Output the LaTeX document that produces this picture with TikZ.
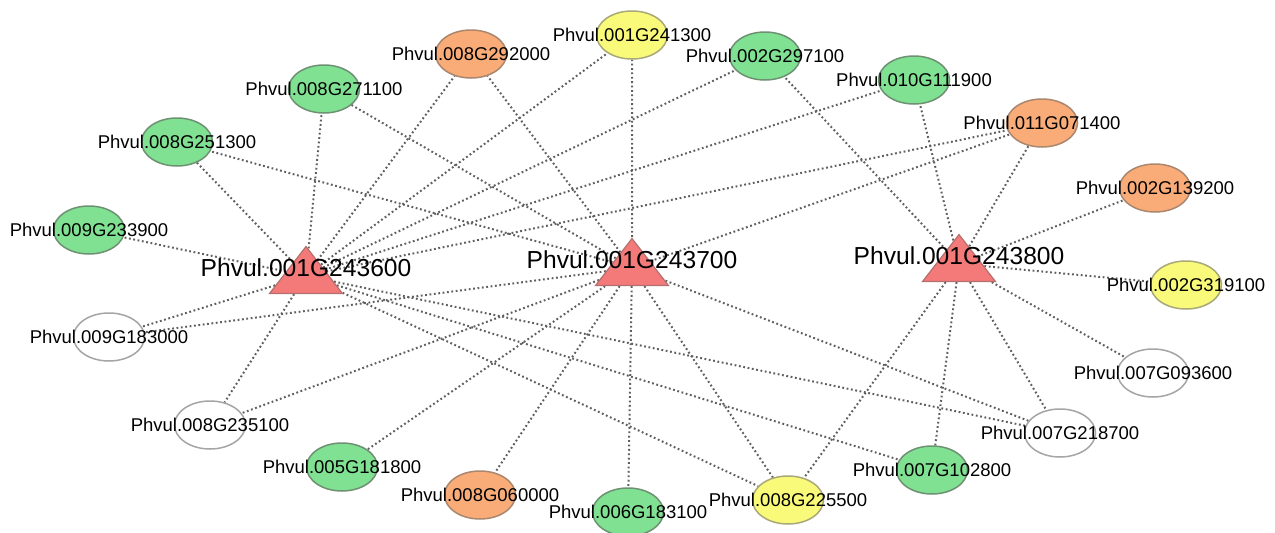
\documentclass[tikz,border=0pt]{standalone}
\usepackage{fontspec}
\setmainfont{Liberation Sans}
\usetikzlibrary{shapes.geometric,backgrounds}

\definecolor{grnfill}{RGB}{128,225,146}
\definecolor{grnline}{RGB}{110,145,115}
\definecolor{orgfill}{RGB}{250,172,120}
\definecolor{orgline}{RGB}{170,135,110}
\definecolor{ylwfill}{RGB}{250,250,122}
\definecolor{ylwline}{RGB}{168,168,120}
\definecolor{whtline}{RGB}{165,165,165}
\definecolor{hubfill}{RGB}{244,122,122}
\definecolor{hubline}{RGB}{180,110,110}
\definecolor{linkgray}{RGB}{95,95,95}

\newcommand{\genefont}{\fontsize{18.5}{20}\selectfont}
\newcommand{\hubfont}{\fontsize{24.6}{27}\selectfont}

\begin{document}
\begin{tikzpicture}[x=1pt,y=-1pt,
    gene/.style={ellipse,minimum width=71pt,minimum height=48pt,inner sep=0pt,
        line width=1.5pt,label={[font=\genefont,inner sep=0pt]center:#1}},
    grn/.style={fill=grnfill,draw=grnline},
    org/.style={fill=orgfill,draw=orgline},
    ylw/.style={fill=ylwfill,draw=ylwline},
    wht/.style={fill=white,draw=whtline},
    hub/.style={isosceles triangle,shape border rotate=90,isosceles triangle stretches,
        minimum width=73pt,minimum height=47pt,inner sep=0pt,anchor=apex,
        fill=hubfill,draw=hubline,line width=1.2pt},
    hubtext/.style={font=\hubfont,inner sep=0pt},
    link/.style={draw=linkgray,line width=2pt,dash pattern=on 1.8pt off 2.6pt}]

    \useasboundingbox (0,0) rectangle (1275,533);

    % the three hub genes, placed by their apex
    \node[hub] (h600) at (306,245) {};
    \node[hub] (h700) at (632,237) {};
    \node[hub] (h800) at (959,233) {};

    % upper ring
    \node[gene=Phvul.001G241300,ylw] (g001G241300) at (632,35) {};
    \node[gene=Phvul.008G292000,org] (g008G292000) at (471,54) {};
    \node[gene=Phvul.002G297100,grn] (g002G297100) at (765,56) {};
    \node[gene=Phvul.008G271100,grn] (g008G271100) at (324,89) {};
    \node[gene=Phvul.010G111900,grn] (g010G111900) at (914,80) {};
    \node[gene=Phvul.011G071400,org] (g011G071400) at (1042,123) {};
    \node[gene=Phvul.008G251300,grn] (g008G251300) at (177,142) {};
    \node[gene=Phvul.002G139200,org] (g002G139200) at (1155,188) {};
    \node[gene=Phvul.009G233900,grn] (g009G233900) at (89,230) {};
    \node[gene=Phvul.002G319100,ylw] (g002G319100) at (1186,285) {};

    % lower ring
    \node[gene=Phvul.009G183000,wht] (g009G183000) at (109,337) {};
    \node[gene=Phvul.007G093600,wht] (g007G093600) at (1153,373) {};
    \node[gene=Phvul.008G235100,wht] (g008G235100) at (210,425) {};
    \node[gene=Phvul.007G218700,wht] (g007G218700) at (1060,433) {};
    \node[gene=Phvul.005G181800,grn] (g005G181800) at (342,467) {};
    \node[gene=Phvul.007G102800,grn] (g007G102800) at (932,470) {};
    \node[gene=Phvul.008G060000,org] (g008G060000) at (480,495) {};
    \node[gene=Phvul.006G183100,grn] (g006G183100) at (628,512) {};
    \node[gene=Phvul.008G225500,ylw] (g008G225500) at (788,500) {};

    % hub names sit on top of the triangles
    \node[hubtext] (t600) at (306,268) {Phvul.001G243600};
    \node[hubtext] (t700) at (632,260) {Phvul.001G243700};
    \node[hubtext] (t800) at (959,256) {Phvul.001G243800};

    \begin{scope}[on background layer]
        % Phvul.001G243600
        \draw[link] (h600) -- (g009G233900) (h600) -- (g008G251300)
            (h600) -- (g008G271100) (h600) -- (g008G292000)
            (h600) -- (g001G241300) (h600) -- (g002G297100)
            (h600) -- (g010G111900) (h600) -- (g011G071400)
            (h600) -- (g009G183000) (h600) -- (g008G235100)
            (h600) -- (g007G218700) (h600) -- (g007G102800)
            (h600) -- (g008G225500);
        % Phvul.001G243700
        \draw[link] (h700) -- (g008G251300) (h700) -- (g008G271100)
            (h700) -- (g008G292000) (h700) -- (g001G241300)
            (h700) -- (g011G071400) (h700) -- (g009G183000)
            (h700) -- (g008G235100) (h700) -- (g005G181800)
            (h700) -- (g008G060000) (h700) -- (g006G183100)
            (h700) -- (g008G225500) (h700) -- (g007G218700);
        % Phvul.001G243800
        \draw[link] (h800) -- (g002G297100) (h800) -- (g010G111900)
            (h800) -- (g011G071400) (h800) -- (g002G139200)
            (h800) -- (g002G319100) (h800) -- (g007G093600)
            (h800) -- (g007G218700) (h800) -- (g007G102800)
            (h800) -- (g008G225500);
    \end{scope}
\end{tikzpicture}
\end{document}
